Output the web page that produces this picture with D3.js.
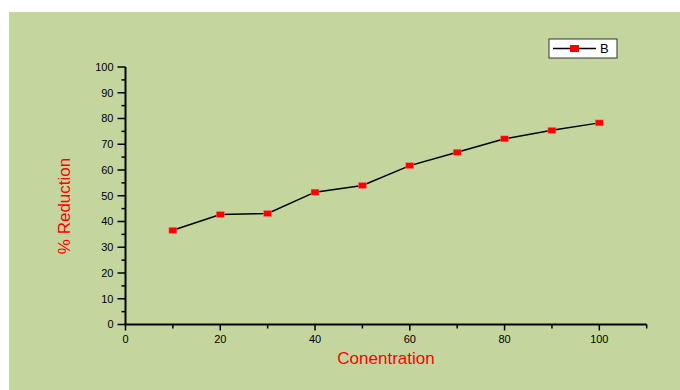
<!DOCTYPE html>
<html><head><meta charset="utf-8">
<script src="https://cdn.jsdelivr.net/npm/d3@7"></script>
<style>html,body{margin:0;padding:0;background:#fff;}svg{display:block;}</style>
</head><body>
<svg id="c" width="680" height="390"></svg>
<script>
const concentration = [10, 20, 30, 40, 50, 60, 70, 80, 90, 100];
const reduction = [36.6, 42.7, 43.1, 51.4, 54.0, 61.7, 66.9, 72.1, 75.4, 78.3];
const xTicks = [0, 20, 40, 60, 80, 100];
const yTicks = [0, 10, 20, 30, 40, 50, 60, 70, 80, 90, 100];
const seriesName = "B";

const svg = d3.select("#c");
const font = "'Liberation Sans', Arial, sans-serif";
svg.append("rect").attr("x", 9).attr("y", 12).attr("width", 671).attr("height", 378).attr("fill", "#C4D69E");

const x = d3.scaleLinear().domain([0, 110]).range([125.5, 646.7]);
const y = d3.scaleLinear().domain([0, 100]).range([324.5, 67]);

const g = svg.append("g");
// axes lines
g.append("line").attr("x1", x(0)).attr("x2", x(0)).attr("y1", y(0)).attr("y2", y(100)).attr("stroke", "#000").attr("stroke-width", 2);
g.append("line").attr("x1", x(0) - 1).attr("x2", x(110)).attr("y1", y(0)).attr("y2", y(0)).attr("stroke", "#000").attr("stroke-width", 2);

// y ticks
const yMinor = d3.range(5, 100, 10);
g.selectAll(".ym").data(yTicks).join("line").attr("x1", x(0) - 8).attr("x2", x(0)).attr("y1", d => y(d)).attr("y2", d => y(d)).attr("stroke", "#000").attr("stroke-width", 1.5);
g.selectAll(".yn").data(yMinor).join("line").attr("x1", x(0) - 4).attr("x2", x(0)).attr("y1", d => y(d)).attr("y2", d => y(d)).attr("stroke", "#000").attr("stroke-width", 1.5);
g.selectAll(".yl").data(yTicks).join("text").attr("x", x(0) - 12).attr("y", d => y(d)).attr("dy", "0.35em").attr("text-anchor", "end")
  .attr("font-family", font).attr("font-size", 11).attr("fill", "#000").text(d => d);

// x ticks
const xMinor = d3.range(10, 111, 20);
g.selectAll(".xm").data(xTicks).join("line").attr("x1", d => x(d)).attr("x2", d => x(d)).attr("y1", y(0)).attr("y2", y(0) + 6).attr("stroke", "#000").attr("stroke-width", 1.5);
g.selectAll(".xn").data(xMinor).join("line").attr("x1", d => x(d)).attr("x2", d => x(d)).attr("y1", y(0)).attr("y2", y(0) + 4).attr("stroke", "#000").attr("stroke-width", 1.5);
g.selectAll(".xl").data(xTicks).join("text").attr("x", d => x(d)).attr("y", y(0) + 18).attr("text-anchor", "middle")
  .attr("font-family", font).attr("font-size", 11).attr("fill", "#000").text(d => d);

// titles
svg.append("text").attr("x", 386).attr("y", 364).attr("text-anchor", "middle").attr("font-family", font).attr("font-size", 17).attr("fill", "#FF0000").text("Conentration");
svg.append("text").attr("transform", "translate(70,206) rotate(-90)").attr("text-anchor", "middle").attr("font-family", font).attr("font-size", 17).attr("fill", "#FF0000").text("% Reduction");

// line
const pts = concentration.map((c, i) => [c, reduction[i]]);
g.append("path").datum(pts).attr("d", d3.line().x(d => x(d[0])).y(d => y(d[1]))).attr("fill", "none").attr("stroke", "#000").attr("stroke-width", 1.5);
g.selectAll(".pt").data(pts).join("rect").attr("x", d => x(d[0]) - 4).attr("y", d => y(d[1]) - 3).attr("width", 8).attr("height", 6)
  .attr("fill", "#FF0000").attr("stroke", "#F08080").attr("stroke-width", 0.5);

// legend
const lg = svg.append("g");
lg.append("rect").attr("x", 549).attr("y", 39).attr("width", 68).attr("height", 19).attr("fill", "#fff").attr("stroke", "#333").attr("stroke-width", 1);
lg.append("line").attr("x1", 553).attr("x2", 596).attr("y1", 48.5).attr("y2", 48.5).attr("stroke", "#000").attr("stroke-width", 1.5);
lg.append("rect").attr("x", 570).attr("y", 45).attr("width", 9).attr("height", 7).attr("fill", "#FF0000");
lg.append("text").attr("x", 600).attr("y", 53).attr("font-family", font).attr("font-size", 13).attr("fill", "#000").text(seriesName);
</script>
</body></html>
